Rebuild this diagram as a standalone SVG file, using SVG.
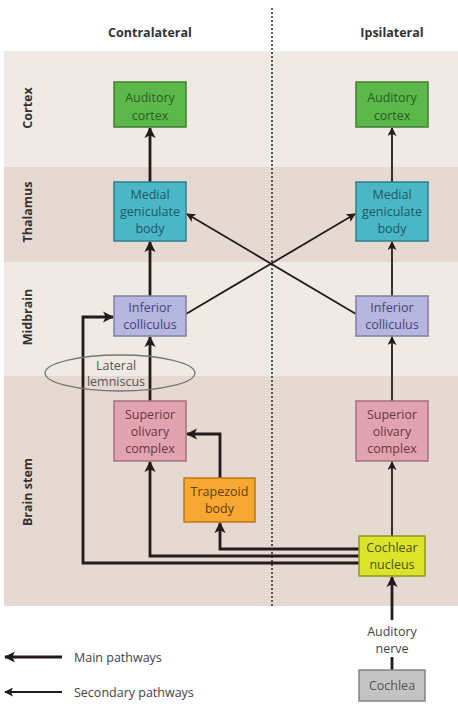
<svg xmlns="http://www.w3.org/2000/svg" width="458" height="720" viewBox="0 0 458 720">
<style>
.t{font-family:"Open Sans","Liberation Sans",sans-serif;font-size:12.5px;text-anchor:middle;dominant-baseline:central}
.hdr{font-family:"Open Sans","Liberation Sans",sans-serif;font-size:12.5px;font-weight:bold;fill:#333;text-anchor:middle;dominant-baseline:central}
.box{stroke-width:1.5}
.main{fill:none;stroke:#231b1b;stroke-width:2.8}
.sec{fill:none;stroke:#231b1b;stroke-width:1.8}
</style>
<defs>
<marker id="ah" viewBox="0 0 10 10" refX="9" refY="5" markerWidth="4" markerHeight="4" orient="auto" markerUnits="strokeWidth">
<path d="M0,0 L10,5 L0,10 L2.5,5 z" fill="#231b1b"/>
</marker>
<marker id="ah2" viewBox="0 0 10 10" refX="9" refY="5" markerWidth="5" markerHeight="5" orient="auto" markerUnits="strokeWidth">
<path d="M0,0 L10,5 L0,10 L2.5,5 z" fill="#231b1b"/>
</marker>
</defs>
<rect width="458" height="720" fill="#fff"/>
<g id="bands">
<rect x="4" y="51" width="454" height="116" fill="#efebe4"/>
<rect x="4" y="167" width="454" height="95" fill="#e5d9d1"/>
<rect x="4" y="262" width="454" height="114" fill="#efebe4"/>
<rect x="4" y="376" width="454" height="230" fill="#e5d9d1"/>
<line x1="272" y1="8" x2="272" y2="606" stroke="#333" stroke-width="1.6" stroke-dasharray="2,2"/>
</g>
<g id="labels">
<text class="hdr" x="150" y="32">Contralateral</text>
<text class="hdr" x="392" y="32">Ipsilateral</text>
<text class="hdr" transform="translate(27,108) rotate(-90)">Cortex</text>
<text class="hdr" transform="translate(27,212) rotate(-90)">Thalamus</text>
<text class="hdr" transform="translate(27,317) rotate(-90)">Midbrain</text>
<text class="hdr" transform="translate(27,492) rotate(-90)">Brain stem</text>
</g>
<g id="connectors">
<line class="main" x1="150" y1="182" x2="150" y2="128" marker-end="url(#ah)"/>
<line class="main" x1="150" y1="296" x2="150" y2="242" marker-end="url(#ah)"/>
<line class="main" x1="150" y1="401" x2="150" y2="337" marker-end="url(#ah)"/>
<line class="sec" x1="392" y1="182" x2="392" y2="128" marker-end="url(#ah2)"/>
<line class="sec" x1="392" y1="296" x2="392" y2="242" marker-end="url(#ah2)"/>
<line class="sec" x1="392" y1="401" x2="392" y2="337" marker-end="url(#ah2)"/>
<line class="sec" x1="392" y1="536" x2="392" y2="462" marker-end="url(#ah2)"/>
<line class="sec" x1="186" y1="314" x2="355" y2="214" marker-end="url(#ah2)"/>
<line class="sec" x1="356" y1="314" x2="187" y2="214" marker-end="url(#ah2)"/>
<polyline class="main" points="359,549 220,549 220,523" marker-end="url(#ah)"/>
<polyline class="main" points="359,556 150,556 150,462" marker-end="url(#ah)"/>
<polyline class="main" points="359,563 83,563 83,317 113,317" marker-end="url(#ah)"/>
<polyline class="main" points="220,478 220,434 187,434" marker-end="url(#ah)"/>
<line class="main" x1="392" y1="620" x2="392" y2="577" marker-end="url(#ah)"/>
<line class="main" x1="392" y1="670" x2="392" y2="657"/>
</g>
<g id="lateral-lemniscus">
<ellipse cx="120" cy="373" rx="75" ry="18" fill="none" stroke="#777" stroke-width="1.3"/>
<text class="t" x="116" y="365.5" fill="#555" font-size="10">Lateral</text>
<text class="t" x="116" y="381" fill="#555" font-size="10">lemniscus</text>
</g>
<g id="auditory-cortex-contra">
<rect class="box" x="114" y="82" width="72" height="45" fill="#5cb84a" stroke="#3f7f33"/>
<text class="t" x="150" y="97" fill="#2c5e22">Auditory</text>
<text class="t" x="150" y="115" fill="#2c5e22">cortex</text>
</g>
<g id="auditory-cortex-ipsi">
<rect class="box" x="356" y="82" width="72" height="45" fill="#5cb84a" stroke="#3f7f33"/>
<text class="t" x="392" y="97" fill="#2c5e22">Auditory</text>
<text class="t" x="392" y="115" fill="#2c5e22">cortex</text>
</g>
<g id="mgb-contra">
<rect class="box" x="114" y="182" width="72" height="59" fill="#4bb7c6" stroke="#2f7f8c"/>
<text class="t" x="150" y="194" fill="#1c5968">Medial</text>
<text class="t" x="150" y="211" fill="#1c5968">geniculate</text>
<text class="t" x="150" y="228" fill="#1c5968">body</text>
</g>
<g id="mgb-ipsi">
<rect class="box" x="356" y="182" width="72" height="59" fill="#4bb7c6" stroke="#2f7f8c"/>
<text class="t" x="392" y="194" fill="#1c5968">Medial</text>
<text class="t" x="392" y="211" fill="#1c5968">geniculate</text>
<text class="t" x="392" y="228" fill="#1c5968">body</text>
</g>
<g id="ic-contra">
<rect class="box" x="114" y="296" width="72" height="40" fill="#b6b6de" stroke="#80809f"/>
<text class="t" x="150" y="307" fill="#45457a">Inferior</text>
<text class="t" x="150" y="324" fill="#45457a">colliculus</text>
</g>
<g id="ic-ipsi">
<rect class="box" x="356" y="296" width="72" height="40" fill="#b6b6de" stroke="#80809f"/>
<text class="t" x="392" y="307" fill="#45457a">Inferior</text>
<text class="t" x="392" y="324" fill="#45457a">colliculus</text>
</g>
<g id="soc-contra">
<rect class="box" x="114" y="401" width="72" height="60" fill="#e2a3b0" stroke="#a7707d"/>
<text class="t" x="150" y="414" fill="#6b3646">Superior</text>
<text class="t" x="150" y="431" fill="#6b3646">olivary</text>
<text class="t" x="150" y="448" fill="#6b3646">complex</text>
</g>
<g id="soc-ipsi">
<rect class="box" x="356" y="401" width="72" height="60" fill="#e2a3b0" stroke="#a7707d"/>
<text class="t" x="392" y="414" fill="#6b3646">Superior</text>
<text class="t" x="392" y="431" fill="#6b3646">olivary</text>
<text class="t" x="392" y="448" fill="#6b3646">complex</text>
</g>
<g id="trapezoid-body">
<rect class="box" x="184" y="478" width="71" height="44" fill="#f6a832" stroke="#b57a1c"/>
<text class="t" x="219.5" y="491" fill="#5e3e0c">Trapezoid</text>
<text class="t" x="219.5" y="508" fill="#5e3e0c">body</text>
</g>
<g id="cochlear-nucleus">
<rect class="box" x="359" y="536" width="66" height="40" fill="#dbe32b" stroke="#8f961c"/>
<text class="t" x="392" y="547" fill="#4d5210">Cochlear</text>
<text class="t" x="392" y="564" fill="#4d5210">nucleus</text>
</g>
<g id="auditory-nerve">
<text class="t" x="392" y="631" fill="#444">Auditory</text>
<text class="t" x="392" y="648" fill="#444">nerve</text>
</g>
<g id="cochlea">
<rect class="box" x="359" y="670" width="66" height="31" fill="#c3c3c3" stroke="#858585"/>
<text class="t" x="392" y="685.5" fill="#555">Cochlea</text>
</g>
<g id="legend">
<line class="main" x1="62" y1="657" x2="5" y2="657" marker-end="url(#ah)"/>
<text x="74" y="657" font-family="Open Sans, Liberation Sans, sans-serif" font-size="12.5" fill="#444" dominant-baseline="central">Main pathways</text>
<line class="sec" x1="62" y1="692" x2="5" y2="692" marker-end="url(#ah2)"/>
<text x="74" y="692" font-family="Open Sans, Liberation Sans, sans-serif" font-size="12.5" fill="#444" dominant-baseline="central">Secondary pathways</text>
</g>
</svg>
